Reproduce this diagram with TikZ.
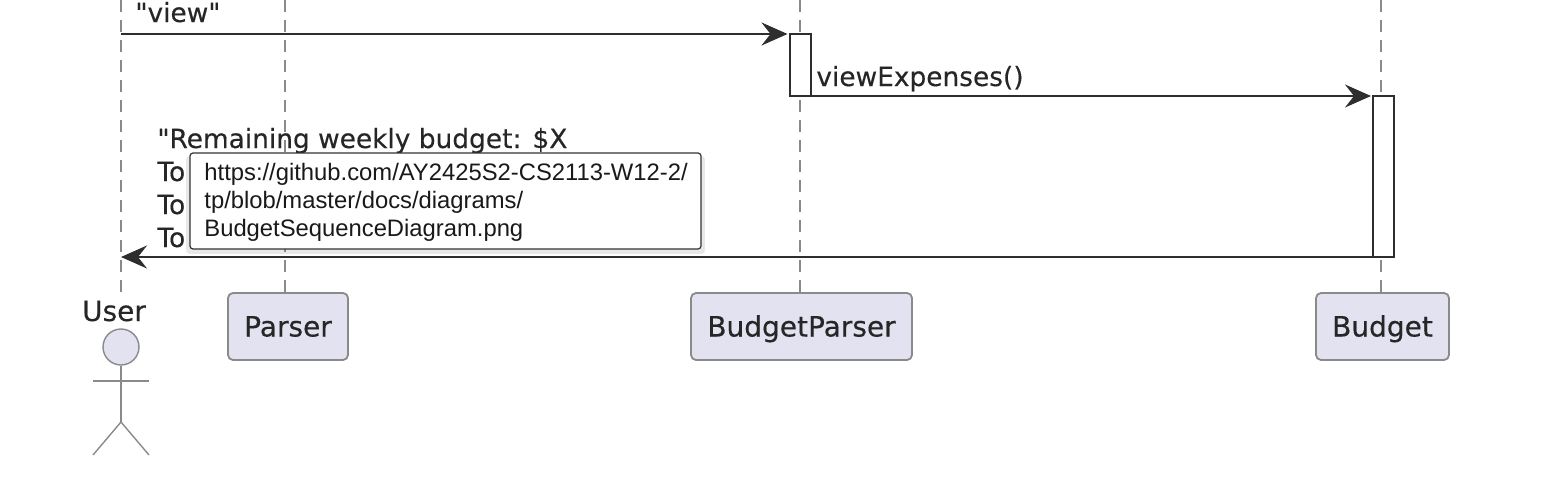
\documentclass[tikz,border=0pt]{standalone}
\usepackage{fontspec}
\setmainfont{DejaVu Sans}[Ligatures=TeXOff, FakeBold=0.35]
\newfontfamily\tipfont{Liberation Sans}
\usepackage{xcolor}
\usetikzlibrary{positioning}
\usetikzlibrary{arrows.meta}
\usetikzlibrary{shadows}
\definecolor{partfill}{HTML}{E2E2F0}
\definecolor{partline}{HTML}{8A8A8A}
\definecolor{msgline}{HTML}{2E2E2E}
\tikzset {
  % participant boxes at the bottom
  part/.style = {draw=partline, fill=partfill, line width=0.9pt, rounded corners=2.5pt, minimum height=33.5pt, inner sep=0pt, text height=10pt, text depth=0pt, font=\fontsize{14}{17}\selectfont, text=black!85},
  % activation bars
  bar/.style = {draw=msgline, fill=white, line width=1pt, minimum width=10.5pt, inner sep=0pt, outer sep=0pt},
  % dashed lifelines
  lifeline/.style = {draw=partline, line width=0.7pt, dash pattern=on 6pt off 4pt},
  % messages
  msg/.style = {draw=msgline, line width=1pt, -{Stealth[length=13pt,width=11.5pt,inset=4.5pt]}, shorten >=1pt},
  msgtext/.style = {inner sep=0pt, anchor=base west, font=\fontsize{13.2}{15}\selectfont, text=black!85},
  % actor stick figure
  stick/.style = {draw=partline, line width=0.7pt},
  % the tooltip on top
  tooltip/.style = {draw=black!80, fill=white, line width=0.6pt, rounded corners=1.5pt, drop shadow={shadow xshift=0pt, shadow yshift=-2pt, shadow scale=1.015, opacity=0.18}, minimum width=255.5pt, minimum height=48pt, inner sep=0pt},
}
\begin{document}
\begin{tikzpicture}[x=0.5pt, y=-0.5pt]
      \useasboundingbox (0,0) rectangle (1568,482);

      % lifeline tops
      \coordinate (userTop) at (121,0);
      \coordinate (parserTop) at (285,0);
      \coordinate (bparserTop) at (800,0);
      \coordinate (budgetTop) at (1381,0);

      \node[part, minimum width=60pt] (parser) at (288,326.5) {Parser};
      \node[part, minimum width=110.5pt] (bparser) at (801.5,326.5) {BudgetParser};
      \node[part, minimum width=66.5pt] (budget) at (1382.5,326.5) {Budget};

      \node[inner sep=0pt, font=\fontsize{14}{17}\selectfont, text=black!85] (user) at (114,311) {User};
      \node[stick, circle, fill=partfill, minimum size=18pt, inner sep=0pt] (head) at (121,347) {};
      \coordinate (userEnd) at (121,295);
      \coordinate (hip) at (121,422);
      \coordinate (armL) at (93,381);
      \coordinate (armR) at (149,381);
      \coordinate (legL) at (93,455);
      \coordinate (legR) at (149,455);

      \draw[lifeline] (userTop) -- (userEnd);
      \draw[lifeline] (parserTop) -- (parser.north -| parserTop);
      \draw[lifeline] (bparserTop) -- (bparser.north -| bparserTop);
      \draw[lifeline] (budgetTop) -- (budget.north -| budgetTop);

      \draw[stick] (head) -- (hip);
      \draw[stick] (armL) -- (armR);
      \draw[stick] (legL) -- (hip) -- (legR);

      \node[bar, minimum height=31pt] (viewbar) at (800,65) {};
      \node[bar, minimum height=80.5pt] (budgetbar) at (1383.5,176.5) {};

      \coordinate (userView) at (121,34);
      \coordinate (userBack) at (119,257);

      \draw[msg] (userView) -- (viewbar.north west);
      \draw[msg] (viewbar.south east) -- (budgetbar.north west);
      \draw[msg] (budgetbar.south west) -- (userBack);

      \node[msgtext] (viewcall) at (135,22) {"view"};
      \node[msgtext] (viewlabel) at (816,86) {viewExpenses()};

      \node[msgtext] (line1) at (157,148) {"Remaining weekly budget: \$X};
      \node[msgtext] (line2) at (157,181) {To};
      \node[msgtext] (line3) at (157,214) {To};
      \node[msgtext] (line4) at (157,247) {To};

      \node[tooltip] (tip) at (445.5,201) {};
      \node[inner sep=0pt, anchor=north west, align=left, font=\tipfont\fontsize{11.9}{14}\selectfont, text=black!90] (tiptext) at (204,163) {https://github.com/AY2425S2-CS2113-W12-2/\\tp/blob/master/docs/diagrams/\\BudgetSequenceDiagram.png};
    \end{tikzpicture}
\end{document}
